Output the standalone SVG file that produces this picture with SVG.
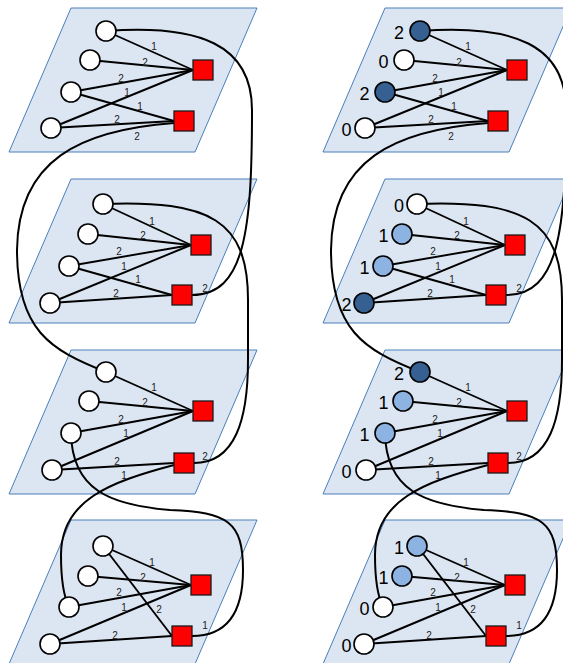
<svg xmlns="http://www.w3.org/2000/svg" width="563" height="663" viewBox="0 0 563 663">
<style>
.panel{fill:#DCE6F2;stroke:#4A7EBB;stroke-width:1}
.edge{stroke:#000;stroke-width:1.9;fill:none}
.curve{stroke:#000;stroke-width:2;fill:none}
.c{stroke:#000;stroke-width:1.6}
.w{fill:#FFFFFF}.lb{fill:#8DB3E2}.db{fill:#376092}
.sq{fill:#FF0000;stroke:#1A1A1A;stroke-width:1.3}
.el{font-family:"Liberation Sans",Arial,sans-serif;font-size:10px;fill:#222;text-anchor:middle}
.nl{font-family:"Liberation Sans",Arial,sans-serif;font-size:18px;fill:#000;text-anchor:middle}
</style>
<defs>
<g id="conn">
<path class="curve" d="M106,31 C200,24 252,45 252,110 C252,230 245,295 192,295"/>
<path class="curve" d="M103,204 C210,200 248,220 248,300 L248,360 C248,420 235,463 194,463"/>
<path class="curve" d="M174,123 C80,130 18,160 17,250 C17,330 50,350 106,372"/>
<path class="curve" d="M71,433 C72,490 110,505 170,510 C228,512 243,522 243,570 C243,615 225,636 192,636"/>
<path class="curve" d="M174,465 C110,482 61,500 61,555 C61,580 63,595 69,607"/>
<line class="edge" x1="106" y1="31" x2="193" y2="70"/>
<line class="edge" x1="90" y1="60" x2="193" y2="70"/>
<line class="edge" x1="71" y1="92" x2="193" y2="70"/>
<line class="edge" x1="51" y1="128" x2="193" y2="70"/>
<line class="edge" x1="71" y1="92" x2="174" y2="121"/>
<line class="edge" x1="51" y1="128" x2="174" y2="121"/>
<line class="edge" x1="103" y1="204" x2="191" y2="245"/>
<line class="edge" x1="88" y1="234" x2="191" y2="245"/>
<line class="edge" x1="69" y1="266" x2="191" y2="245"/>
<line class="edge" x1="50" y1="303" x2="191" y2="245"/>
<line class="edge" x1="69" y1="266" x2="172" y2="295"/>
<line class="edge" x1="50" y1="303" x2="172" y2="295"/>
<line class="edge" x1="106" y1="372" x2="193" y2="411"/>
<line class="edge" x1="89" y1="401" x2="193" y2="411"/>
<line class="edge" x1="71" y1="433" x2="193" y2="411"/>
<line class="edge" x1="52" y1="470" x2="193" y2="411"/>
<line class="edge" x1="52" y1="470" x2="174" y2="463"/>
<line class="edge" x1="103" y1="546" x2="191" y2="585"/>
<line class="edge" x1="88" y1="576" x2="191" y2="585"/>
<line class="edge" x1="69" y1="607" x2="191" y2="585"/>
<line class="edge" x1="50" y1="644" x2="191" y2="585"/>
<line class="edge" x1="103" y1="546" x2="172" y2="636"/>
<line class="edge" x1="50" y1="644" x2="172" y2="636"/>
<text class="el" x="154" y="49.5">1</text>
<text class="el" x="145" y="65.5">2</text>
<text class="el" x="121" y="81.5">2</text>
<text class="el" x="127" y="95.5">1</text>
<text class="el" x="140" y="109.5">1</text>
<text class="el" x="117" y="122.5">2</text>
<text class="el" x="137" y="139.5">2</text>
<text class="el" x="152" y="224.5">1</text>
<text class="el" x="143" y="238.5">2</text>
<text class="el" x="119" y="254.5">2</text>
<text class="el" x="124" y="269.5">1</text>
<text class="el" x="138" y="282.5">1</text>
<text class="el" x="116" y="296.5">2</text>
<text class="el" x="205" y="291.5">2</text>
<text class="el" x="154" y="390.5">1</text>
<text class="el" x="145" y="405.5">2</text>
<text class="el" x="121" y="422.5">2</text>
<text class="el" x="126" y="436.5">1</text>
<text class="el" x="117" y="464.5">2</text>
<text class="el" x="124" y="478.5">1</text>
<text class="el" x="205" y="459.5">2</text>
<text class="el" x="152" y="565.5">1</text>
<text class="el" x="143" y="580.5">2</text>
<text class="el" x="119" y="595.5">2</text>
<text class="el" x="124" y="610.5">1</text>
<text class="el" x="159" y="612.5">2</text>
<text class="el" x="115" y="638.5">2</text>
<text class="el" x="205" y="628.5">1</text>
</g>
</defs>
<g id="panels">
<polygon class="panel" points="71,8 257,8 195,152 9,152"/>
<polygon class="panel" points="71,179 257,179 195,323 9,323"/>
<polygon class="panel" points="71,350 257,350 195,494 9,494"/>
<polygon class="panel" points="71,520 257,520 195,664 9,664"/>
<polygon class="panel" points="385,8 571,8 509,152 323,152"/>
<polygon class="panel" points="385,179 571,179 509,323 323,323"/>
<polygon class="panel" points="385,350 571,350 509,494 323,494"/>
<polygon class="panel" points="385,520 571,520 509,664 323,664"/>
</g>
<g id="connectors">
<use href="#conn"/>
<use href="#conn" transform="translate(314,0)"/>
</g>
<g id="L1c1"><circle class="c w" cx="106" cy="31" r="10"/></g>
<g id="L1c2"><circle class="c w" cx="90" cy="60" r="10"/></g>
<g id="L1c3"><circle class="c w" cx="71" cy="92" r="10"/></g>
<g id="L1c4"><circle class="c w" cx="51" cy="128" r="10"/></g>
<g id="L1s1"><rect class="sq" x="193" y="60" width="20" height="20"/></g>
<g id="L1s2"><rect class="sq" x="174" y="111" width="20" height="20"/></g>
<g id="L2c1"><circle class="c w" cx="103" cy="204" r="10"/></g>
<g id="L2c2"><circle class="c w" cx="88" cy="234" r="10"/></g>
<g id="L2c3"><circle class="c w" cx="69" cy="266" r="10"/></g>
<g id="L2c4"><circle class="c w" cx="50" cy="303" r="10"/></g>
<g id="L2s1"><rect class="sq" x="191" y="235" width="20" height="20"/></g>
<g id="L2s2"><rect class="sq" x="172" y="285" width="20" height="20"/></g>
<g id="L3c1"><circle class="c w" cx="106" cy="372" r="10"/></g>
<g id="L3c2"><circle class="c w" cx="89" cy="401" r="10"/></g>
<g id="L3c3"><circle class="c w" cx="71" cy="433" r="10"/></g>
<g id="L3c4"><circle class="c w" cx="52" cy="470" r="10"/></g>
<g id="L3s1"><rect class="sq" x="193" y="401" width="20" height="20"/></g>
<g id="L3s2"><rect class="sq" x="174" y="453" width="20" height="20"/></g>
<g id="L4c1"><circle class="c w" cx="103" cy="546" r="10"/></g>
<g id="L4c2"><circle class="c w" cx="88" cy="576" r="10"/></g>
<g id="L4c3"><circle class="c w" cx="69" cy="607" r="10"/></g>
<g id="L4c4"><circle class="c w" cx="50" cy="644" r="10"/></g>
<g id="L4s1"><rect class="sq" x="191" y="575" width="20" height="20"/></g>
<g id="L4s2"><rect class="sq" x="172" y="626" width="20" height="20"/></g>
<g id="R1c1"><circle class="c db" cx="420" cy="31" r="10"/><text class="nl" x="399" y="39">2</text></g>
<g id="R1c2"><circle class="c w" cx="404" cy="60" r="10"/><text class="nl" x="383.5" y="68">0</text></g>
<g id="R1c3"><circle class="c db" cx="385" cy="92" r="10"/><text class="nl" x="364.5" y="100">2</text></g>
<g id="R1c4"><circle class="c w" cx="365" cy="128" r="10"/><text class="nl" x="346.5" y="136">0</text></g>
<g id="R1s1"><rect class="sq" x="507" y="60" width="20" height="20"/></g>
<g id="R1s2"><rect class="sq" x="488" y="111" width="20" height="20"/></g>
<g id="R2c1"><circle class="c w" cx="417" cy="204" r="10"/><text class="nl" x="399" y="212">0</text></g>
<g id="R2c2"><circle class="c lb" cx="402" cy="234" r="10"/><text class="nl" x="383.5" y="242">1</text></g>
<g id="R2c3"><circle class="c lb" cx="383" cy="266" r="10"/><text class="nl" x="364.5" y="274">1</text></g>
<g id="R2c4"><circle class="c db" cx="364" cy="303" r="10"/><text class="nl" x="346.5" y="311">2</text></g>
<g id="R2s1"><rect class="sq" x="505" y="235" width="20" height="20"/></g>
<g id="R2s2"><rect class="sq" x="486" y="285" width="20" height="20"/></g>
<g id="R3c1"><circle class="c db" cx="420" cy="372" r="10"/><text class="nl" x="399" y="380">2</text></g>
<g id="R3c2"><circle class="c lb" cx="403" cy="401" r="10"/><text class="nl" x="383.5" y="409">1</text></g>
<g id="R3c3"><circle class="c lb" cx="385" cy="433" r="10"/><text class="nl" x="364.5" y="441">1</text></g>
<g id="R3c4"><circle class="c w" cx="366" cy="470" r="10"/><text class="nl" x="346.5" y="478">0</text></g>
<g id="R3s1"><rect class="sq" x="507" y="401" width="20" height="20"/></g>
<g id="R3s2"><rect class="sq" x="488" y="453" width="20" height="20"/></g>
<g id="R4c1"><circle class="c lb" cx="417" cy="546" r="10"/><text class="nl" x="399" y="554">1</text></g>
<g id="R4c2"><circle class="c lb" cx="402" cy="576" r="10"/><text class="nl" x="383.5" y="584">1</text></g>
<g id="R4c3"><circle class="c w" cx="383" cy="607" r="10"/><text class="nl" x="364.5" y="615">0</text></g>
<g id="R4c4"><circle class="c w" cx="364" cy="644" r="10"/><text class="nl" x="346.5" y="652">0</text></g>
<g id="R4s1"><rect class="sq" x="505" y="575" width="20" height="20"/></g>
<g id="R4s2"><rect class="sq" x="486" y="626" width="20" height="20"/></g>
</svg>
